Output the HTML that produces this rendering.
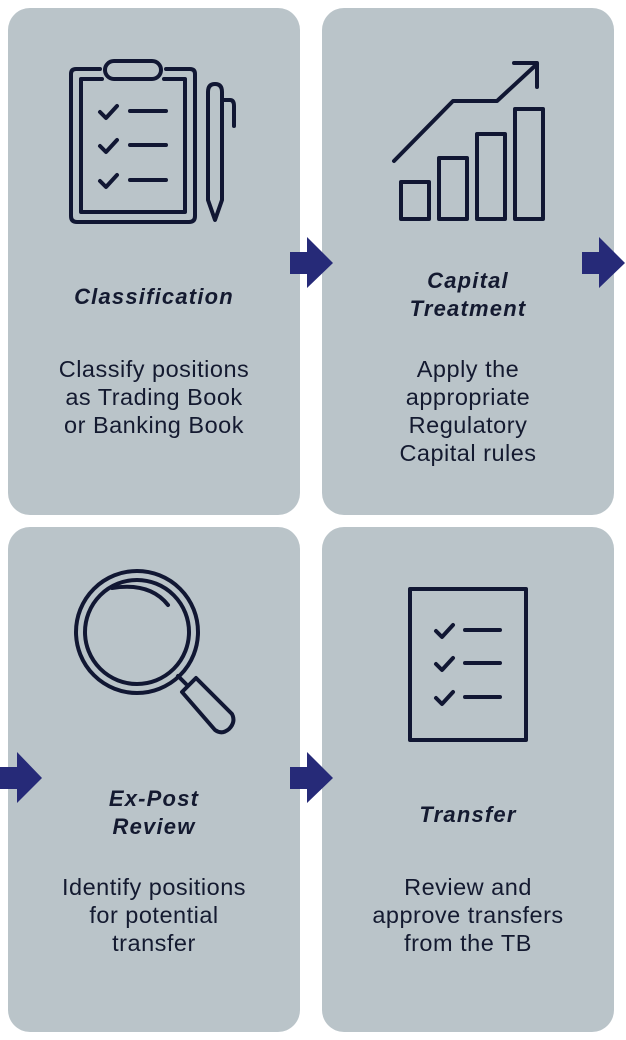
<!DOCTYPE html>
<html><head><meta charset="utf-8"><style>
html,body{margin:0;padding:0;background:#fff;width:626px;height:1040px;overflow:hidden;position:relative;font-family:"Liberation Sans",sans-serif;color:#141a30}
.card{position:absolute;background:#bac4c9;border-radius:22px}
.t{position:absolute;width:292px;text-align:center;font-size:23.5px;line-height:28px;letter-spacing:0.5px}
.h{font-weight:bold;font-style:italic;font-size:22px;letter-spacing:1.2px}
svg{position:absolute;left:0;top:0}
</style></head><body>
<div class="card" style="left:8px;top:8px;width:292px;height:507px"></div>
<div class="card" style="left:322px;top:8px;width:292px;height:507px"></div>
<div class="card" style="left:8px;top:527px;width:292px;height:505px"></div>
<div class="card" style="left:322px;top:527px;width:292px;height:505px"></div>

<svg width="626" height="1040" viewBox="0 0 626 1040">
<g fill="#262a78">
<polygon points="290,252 307,252 307,237 333,263 307,288 307,274 290,274"/>
<polygon points="582,252 599,252 599,237 625,263 599,288 599,274 582,274"/>
<polygon points="0,767 17,767 17,752 42,778 17,803 17,789 0,789"/>
<polygon points="290,767 307,767 307,752 333,778 307,803 307,789 290,789"/>
</g>
<g fill="none" stroke="#111733" stroke-width="4" stroke-linecap="round" stroke-linejoin="round">
<path d="M100,69 H76 Q71,69 71,74 V216 Q71,222 77,222 H189 Q195,222 195,216 V74 Q195,69 190,69 H166"/>
<path d="M102,79 H81 V212 H185 V79 H164"/>
<rect x="105" y="61" width="56" height="18" rx="9"/>
<path d="M100,112 l6,6 l11,-12 M130,111 H166 M100,146 l6,6 l11,-12 M130,145 H166 M100,181 l6,6 l11,-12 M130,180 H166"/>
<path d="M208,92 Q208,84 215,84 Q222,84 222,92 V200 L215,220 L208,200 Z M222,100 H230 Q234,100 234,106 V126"/>
<rect x="401" y="182" width="28" height="37"/>
<rect x="439" y="158" width="28" height="61"/>
<rect x="477" y="134" width="28" height="85"/>
<rect x="515" y="109" width="28" height="110"/>
<path d="M394,161 L453,101 L497,101 L537,64 M514,63 H537 V87"/>
<circle cx="137" cy="632" r="61"/>
<circle cx="137" cy="632" r="52"/>
<path d="M112,588 Q150,582 168,605"/>
<path d="M178,676 L186,684"/>
<path d="M182,692 L196,678 L232,714 Q236,722 229,729 Q222,735 215,730 Z"/>
<rect x="410" y="589" width="116" height="151"/>
<path d="M436,631 l6,6 l11,-12 M465,630 H500 M436,664 l6,6 l11,-12 M465,663 H500 M436,698 l6,6 l11,-12 M465,697 H500"/>
</g>
</svg>

<div class="t h" style="left:8px;top:283px">Classification</div>
<div class="t" style="left:8px;top:355px">Classify positions<br>as Trading Book<br>or Banking Book</div>
<div class="t h" style="left:322px;top:267px">Capital<br>Treatment</div>
<div class="t" style="left:322px;top:355px">Apply the<br>appropriate<br>Regulatory<br>Capital rules</div>
<div class="t h" style="left:8px;top:785px">Ex-Post<br>Review</div>
<div class="t" style="left:8px;top:873px">Identify positions<br>for potential<br>transfer</div>
<div class="t h" style="left:322px;top:801px">Transfer</div>
<div class="t" style="left:322px;top:873px">Review and<br>approve transfers<br>from the TB</div>
</body></html>
